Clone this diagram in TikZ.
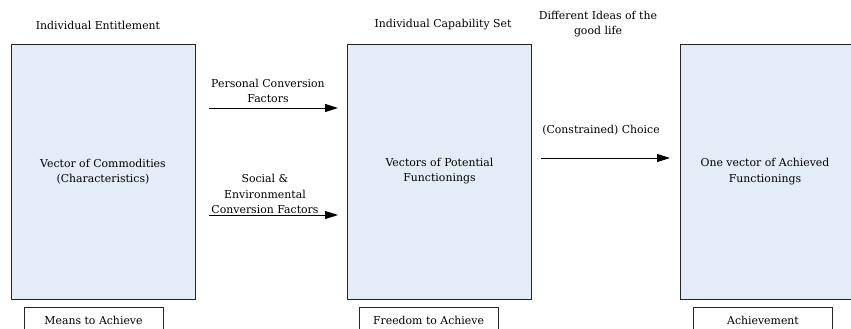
\documentclass[tikz,border=0pt]{standalone}
\usepackage{fontspec}
\setmainfont{DejaVu Serif}
\usetikzlibrary{arrows.meta}
\definecolor{boxfill}{HTML}{E4ECF7}
\begin{document}
\begin{tikzpicture}[x=1pt,y=-1pt,
  bigbox/.style={draw=black!85, line width=0.9pt, fill=boxfill, minimum width=184pt, minimum height=255pt, align=center, inner sep=0pt, font=\fontsize{10.9}{15}\selectfont},
  smallbox/.style={draw=black!85, line width=0.9pt, fill=white, minimum width=139pt, minimum height=30pt, inner sep=0pt},
  lbl/.style={align=center, inner sep=0pt, font=\fontsize{10.9}{15.5}\selectfont},
  arr/.style={-{Triangle[length=13pt,width=8pt]}, line width=0.9pt}]
\useasboundingbox (0,0) rectangle (851,329);
\clip (0,0) rectangle (851,329);
\node[bigbox] (b1) at (103,171.5) {Vector of Commodities\\(Characteristics)};
\node[bigbox] (b2) at (439.5,171.5) {Vectors of Potential\\Functionings};
\node[bigbox, minimum width=190pt, anchor=west] (b3) at (680,171.5) {\hspace*{0pt}};
\node[lbl] (t3) at (765,171.5) {One vector of Achieved\\Functionings};
\node[smallbox, anchor=north] (s1) at (93.5,307) {};
\node[smallbox, anchor=north] (s2) at (428.5,307) {};
\node[smallbox, anchor=north] (s3) at (763,307) {};
\node[lbl] (m1) at (93.5,320) {Means to Achieve};
\node[lbl] (m2) at (428.5,320) {Freedom to Achieve};
\node[lbl] (m3) at (763,320) {Achievement};
\node[lbl] (h1) at (98,25) {Individual Entitlement};
\node[lbl] (h2) at (443,25) {Individual Capability Set};
\node[lbl] (h3) at (598,24) {Different Ideas of the\\good life};
\coordinate (p1) at (209,108); \coordinate (p2) at (338,108);
\coordinate (q1) at (209,215); \coordinate (q2) at (338,215);
\coordinate (c1) at (541,158); \coordinate (c2) at (670,158);
\draw[arr] (p1) -- (p2);
\draw[arr] (q1) -- (q2);
\draw[arr] (c1) -- (c2);
\node[lbl] (l1) at (268,91) {Personal Conversion\\Factors};
\node[lbl] (l2) at (265,194) {Social \&\\Environmental\\Conversion Factors};
\node[lbl] (l3) at (601,130) {(Constrained) Choice};
\end{tikzpicture}
\end{document}
